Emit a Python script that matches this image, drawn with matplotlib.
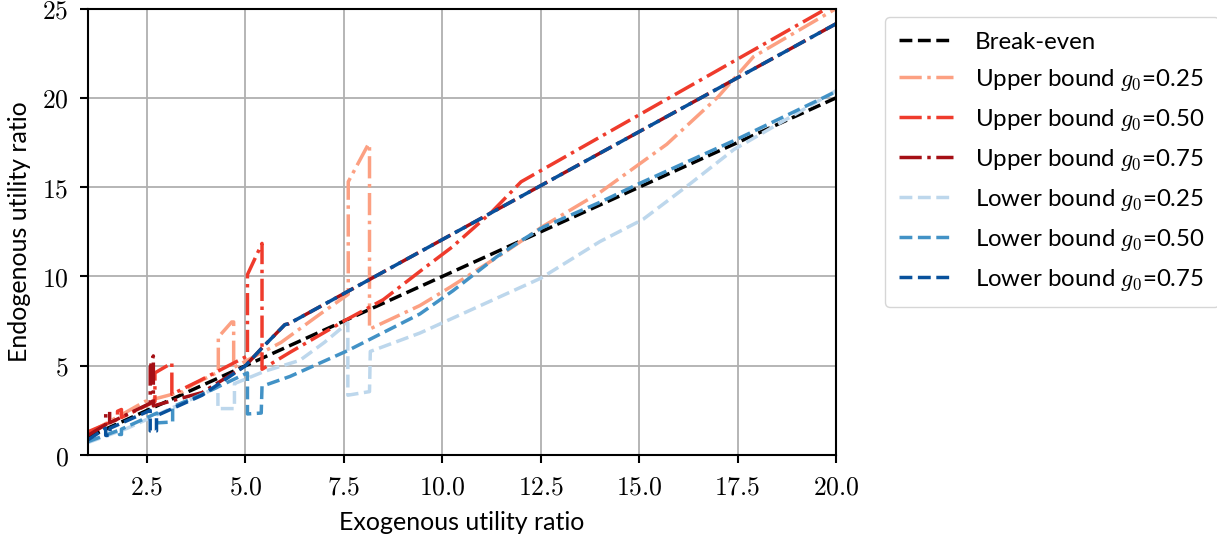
import matplotlib
matplotlib.use('Agg')
from matplotlib import pyplot as plt
from matplotlib.ticker import FuncFormatter, MultipleLocator

plt.rcParams['font.family'] = ['Lato', 'DejaVu Sans']
plt.rcParams['mathtext.fontset'] = 'cm'
plt.rcParams['font.size'] = 18

# break-even
be_x = [1.0, 20.0]
be_y = [1.0, 20.0]

# upper bounds (dash-dot)
up25_x = [1.0, 2.45, 3.4, 3.67, 4.31, 4.31, 4.65, 4.7, 4.7, 5.9, 6.9, 7.61, 7.61, 8.12, 8.15, 8.15,
          9.43, 10.2, 11.55, 12.55, 14.0, 15.7, 17.0, 17.9, 20.0]
up25_y = [1.2, 3.0, 3.55, 3.95, 4.65, 6.6, 7.45, 7.45, 4.9, 6.3, 7.9, 9.0, 15.3, 17.4, 17.4, 7.05,
          8.37, 9.4, 11.3, 12.8, 14.7, 17.4, 20.05, 22.3, 25.0]

up50_x = [1.0, 1.75, 1.75, 1.85, 1.85, 2.7, 2.7, 3.13, 3.13, 3.84, 5.05, 5.05, 5.42, 5.42, 6.13,
          7.5, 8.5, 9.5, 10.25, 11.25, 12.0, 20.0]
up50_y = [1.3, 2.0, 2.45, 2.55, 2.1, 3.0, 4.6, 5.15, 3.4, 4.17, 5.55, 10.1, 11.85, 4.8, 5.75,
          7.5, 8.7, 10.4, 11.65, 13.6, 15.3, 25.3]

up75_x = [1.0, 1.45, 1.45, 1.55, 1.55, 2.58, 2.58, 2.66, 2.66, 3.9, 5.0, 5.4, 6.0, 6.1, 20.0]
up75_y = [1.1, 1.7, 2.3, 2.45, 1.8, 2.9, 4.9, 5.55, 2.75, 3.5, 5.0, 5.95, 7.3, 7.35, 24.15]

# lower bounds (dashed)
lo25_x = [1.0, 2.0, 3.0, 4.3, 4.3, 4.72, 4.72, 5.5, 6.38, 7.0, 7.6, 7.6, 8.15, 8.17,
          9.43, 11.0, 12.5, 14.0, 15.1, 16.3, 17.4, 20.0]
lo25_y = [0.7, 1.5, 2.5, 3.8, 2.6, 2.6, 4.0, 4.7, 5.3, 6.3, 7.4, 3.35, 3.55, 5.8,
          6.83, 8.4, 9.9, 11.95, 13.2, 15.2, 17.1, 20.4]

lo50_x = [1.0, 1.8, 1.8, 1.85, 1.85, 2.75, 2.75, 3.15, 3.15, 4.0, 5.05, 5.05, 5.4, 5.42, 6.13,
          7.6, 9.43, 10.27, 11.38, 12.0, 12.55, 14.0, 15.0, 17.5, 20.0]
lo50_y = [0.75, 1.4, 1.15, 1.15, 1.45, 2.35, 1.8, 1.85, 2.7, 3.5, 4.6, 2.3, 2.35, 3.85, 4.4,
          5.85, 7.9, 9.2, 11.1, 12.0, 12.75, 14.15, 15.2, 17.7, 20.35]

lo75_x = [1.0, 1.45, 1.45, 1.56, 1.56, 2.58, 2.58, 2.74, 2.74, 3.9, 5.0, 5.4, 6.0, 6.1, 20.0]
lo75_y = [0.85, 1.5, 1.1, 1.1, 1.5, 2.5, 1.35, 1.35, 2.2, 3.35, 5.0, 5.95, 7.3, 7.35, 24.15]

fig = plt.figure(figsize=(12.17, 5.35), dpi=100)
ax = fig.add_axes([0.0723, 0.1495, 0.6147, 0.8345])

lw = 2.5
ax.plot(be_x, be_y, '--', color='black', lw=lw, label='Break-even')
ax.plot(up25_x, up25_y, '-.', color='#fca082', lw=lw, label=r'Upper bound $g_0$=0.25')
ax.plot(up50_x, up50_y, '-.', color='#ef3b2c', lw=lw, label=r'Upper bound $g_0$=0.50')
ax.plot(up75_x, up75_y, '-.', color='#a50f15', lw=lw, label=r'Upper bound $g_0$=0.75')
ax.plot(lo25_x, lo25_y, '--', color='#bdd7ec', lw=lw, label=r'Lower bound $g_0$=0.25')
ax.plot(lo50_x, lo50_y, '--', color='#4292c6', lw=lw, label=r'Lower bound $g_0$=0.50')
ax.plot(lo75_x, lo75_y, '--', color='#08519c', lw=lw, label=r'Lower bound $g_0$=0.75')

ax.set_xlim(1, 20)
ax.set_ylim(0, 25)
ax.xaxis.set_major_locator(MultipleLocator(2.5))
ax.yaxis.set_major_locator(MultipleLocator(5))
ax.xaxis.set_major_formatter(FuncFormatter(lambda v, p: '$%.1f$' % v if v > 1.5 else ''))
ax.yaxis.set_major_formatter(FuncFormatter(lambda v, p: '$%d$' % v))
ax.grid(True, color='#b0b0b0', lw=1.3)
ax.set_axisbelow(True)
for s in ax.spines.values():
    s.set_linewidth(1.5)
ax.tick_params(width=1.5, length=6, labelsize=18.5, pad=8)

ax.set_xlabel('Exogenous utility ratio', labelpad=8)
ax.set_ylabel('Endogenous utility ratio', labelpad=8)

ax.legend(loc='upper left', bbox_to_anchor=(1.065, 0.98), borderaxespad=0,
          handlelength=2.25, handletextpad=0.9, labelspacing=0.58, borderpad=0.6,
          fontsize=17.3)

plt.savefig('out.png', dpi=100)
